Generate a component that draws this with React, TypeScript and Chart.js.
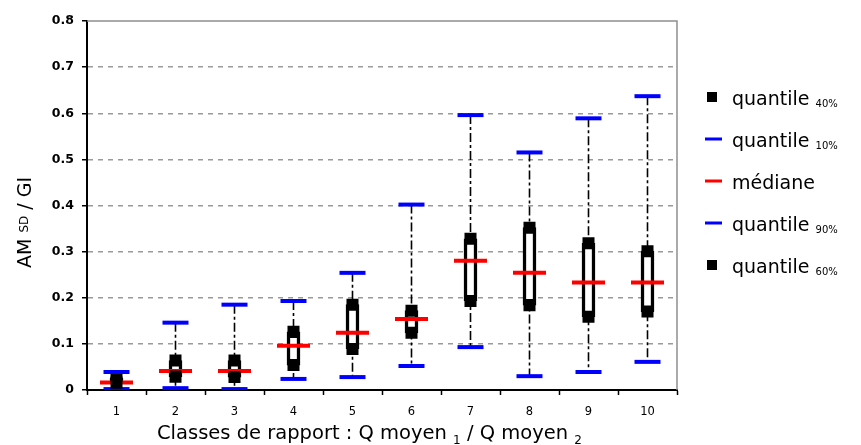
import { useEffect, useRef } from 'react';
import { Chart, registerables } from 'chart.js';

Chart.register(...registerables);

// Classes de rapport Q moyen 1 / Q moyen 2
const classes = ['1', '2', '3', '4', '5', '6', '7', '8', '9', '10'];

// AM SD / GI quantiles per class
const q10 = [0.002, 0.004, 0.002, 0.024, 0.028, 0.052, 0.093, 0.03, 0.039, 0.061];
const q40 = [0.016, 0.029, 0.028, 0.054, 0.089, 0.124, 0.193, 0.184, 0.159, 0.17];
const median = [0.016, 0.041, 0.041, 0.096, 0.124, 0.154, 0.28, 0.254, 0.233, 0.233];
const q60 = [0.026, 0.064, 0.064, 0.126, 0.185, 0.172, 0.328, 0.352, 0.318, 0.301];
const q90 = [0.039, 0.146, 0.185, 0.193, 0.254, 0.402, 0.596, 0.515, 0.589, 0.637];

const yTickLabels = ['0', '0.1', '0.2', '0.3', '0.4', '0.5', '0.6', '0.7', '0.8'];

const legendLabels = ['quantile', 'quantile', 'médiane', 'quantile', 'quantile'];
const legendSubs = ['40%', '10%', '', '90%', '60%'];
const legendKinds = ['square', 'blue', 'red', 'blue', 'square'];

const FONT = "'DejaVu Sans', sans-serif";
const BLUE = '#0000ff';
const RED = '#ff0000';

const decor = {
  id: 'decor',
  beforeDatasetsDraw(chart: any) {
    const { ctx, chartArea, scales } = chart;
    const x = scales.x;
    const y = scales.y;
    ctx.save();
    // plot frame, top and right
    ctx.strokeStyle = '#8f8f8f';
    ctx.lineWidth = 1.5;
    ctx.beginPath();
    ctx.moveTo(chartArea.left, chartArea.top);
    ctx.lineTo(chartArea.right, chartArea.top);
    ctx.lineTo(chartArea.right, chartArea.bottom);
    ctx.stroke();
    // dashed whiskers from q10 to q90
    ctx.strokeStyle = '#000';
    ctx.lineWidth = 1.6;
    ctx.setLineDash([9, 3, 3, 3]);
    q10.forEach((lo, i) => {
      const px = x.getPixelForValue(i);
      ctx.beginPath();
      ctx.moveTo(px, y.getPixelForValue(q90[i]));
      ctx.lineTo(px, y.getPixelForValue(lo));
      ctx.stroke();
    });
    ctx.restore();
  },
  afterDraw(chart: any) {
    const { ctx } = chart;
    ctx.save();
    ctx.fillStyle = '#000';
    ctx.textBaseline = 'alphabetic';
    ctx.textAlign = 'left';

    // x axis title with subscripts
    let tx = 157;
    const base = 439;
    const big = `19.5px ${FONT}`;
    const small = `12px ${FONT}`;
    const parts: [string, string, number][] = [
      ['Classes de rapport : Q moyen ', big, 0],
      ['1', small, 5],
      [' / Q moyen ', big, 0],
      ['2', small, 5],
    ];
    parts.forEach(([t, f, dy]) => {
      ctx.font = f;
      ctx.fillText(t, tx, base + dy);
      tx += ctx.measureText(t).width;
    });

    // y axis title, rotated
    ctx.save();
    ctx.translate(31, 268);
    ctx.rotate(-Math.PI / 2);
    let ty = 0;
    const yparts: [string, string, number][] = [
      ['AM ', `19px ${FONT}`, 0],
      ['SD', small, -3],
      [' / GI', `19px ${FONT}`, 0],
    ];
    yparts.forEach(([t, f, dy]) => {
      ctx.font = f;
      ctx.fillText(t, ty, dy);
      ty += ctx.measureText(t).width;
    });
    ctx.restore();

    // legend
    legendLabels.forEach((label, i) => {
      const cy = 97 + 42 * i;
      const kind = legendKinds[i];
      if (kind === 'square') {
        ctx.fillStyle = '#000';
        ctx.fillRect(707, cy - 5, 10, 10);
      } else {
        ctx.fillStyle = kind === 'blue' ? BLUE : RED;
        ctx.fillRect(705, cy - 1.5, 17, 3);
      }
      ctx.fillStyle = '#000';
      ctx.font = `19px ${FONT}`;
      ctx.fillText(label, 732, cy + 8);
      const w = ctx.measureText(label + ' ').width;
      if (legendSubs[i]) {
        ctx.font = `10px ${FONT}`;
        ctx.fillText(legendSubs[i], 732 + w, cy + 10);
      }
    });
    ctx.restore();
  },
};

export default function App() {
  const ref = useRef<HTMLCanvasElement | null>(null);

  useEffect(() => {
    if (!ref.current) return;
    Chart.defaults.font.family = FONT;
    Chart.defaults.color = '#000';

    const markerLine = (data: number[], color: string, r: number) => ({
      type: 'line' as const,
      data,
      showLine: false,
      pointStyle: 'line',
      pointRadius: r,
      pointBorderColor: color,
      pointBackgroundColor: color,
      pointBorderWidth: 4,
      borderColor: color,
      order: 1,
    });
    const markerSquare = (data: number[]) => ({
      type: 'line' as const,
      data,
      showLine: false,
      pointStyle: 'rect',
      pointRadius: 8.5,
      pointBorderWidth: 0,
      pointBackgroundColor: '#000',
      pointBorderColor: '#000',
      borderColor: '#000',
      order: 1,
    });

    const chart = new Chart(ref.current, {
      type: 'bar',
      data: {
        labels: classes,
        datasets: [
          {
            type: 'bar',
            data: q40.map((lo, i) => [lo, q60[i]]) as any,
            backgroundColor: '#fff',
            borderColor: '#000',
            borderWidth: 3.5,
            borderSkipped: false,
            barThickness: 13,
            order: 10,
          },
          markerSquare(q40),
          markerLine(q10, BLUE, 13),
          markerLine(median, RED, 16.5),
          markerLine(q90, BLUE, 13),
          markerSquare(q60),
        ] as any,
      },
      options: {
        responsive: false,
        animation: false,
        events: [],
        layout: { padding: { left: 0, right: 184, top: 21, bottom: 0 } },
        plugins: {
          legend: { display: false },
          tooltip: { enabled: false },
          title: { display: false },
        },
        scales: {
          x: {
            offset: true,
            grid: {
              offset: true,
              drawOnChartArea: false,
              drawTicks: true,
              tickLength: 5,
              tickColor: '#000',
              tickWidth: 1.5,
            },
            border: { display: true, color: '#000', width: 2 },
            ticks: { font: { size: 11.5 }, padding: 10, color: '#000' },
            afterFit: (s: any) => {
              s.height = 55;
            },
          },
          y: {
            min: 0,
            max: 0.8,
            grid: {
              color: (c: any) =>
                c.tick && (c.tick.value === 0 || Math.abs(c.tick.value - 0.8) < 1e-6)
                  ? 'rgba(0,0,0,0)'
                  : '#9a9a9a',
              lineWidth: 1.5,
              drawTicks: true,
              tickLength: 5,
              tickColor: '#000',
              tickWidth: 1.5,
            },
            border: { display: true, color: '#000', width: 2, dash: [5, 5] },
            ticks: {
              stepSize: 0.1,
              padding: 8,
              font: { size: 12.5, weight: 'bold' },
              color: '#000',
              callback: (_v: any, i: number) => yTickLabels[i],
            },
            afterFit: (s: any) => {
              s.width = 87;
            },
          },
        },
      },
      plugins: [decor],
    });
    return () => chart.destroy();
  }, []);

  return (
    <div style={{ position: 'fixed', left: 0, top: 0, width: 861, height: 445, background: '#fff' }}>
      <canvas ref={ref} width={861} height={445} style={{ width: 861, height: 445 }} />
    </div>
  );
}
